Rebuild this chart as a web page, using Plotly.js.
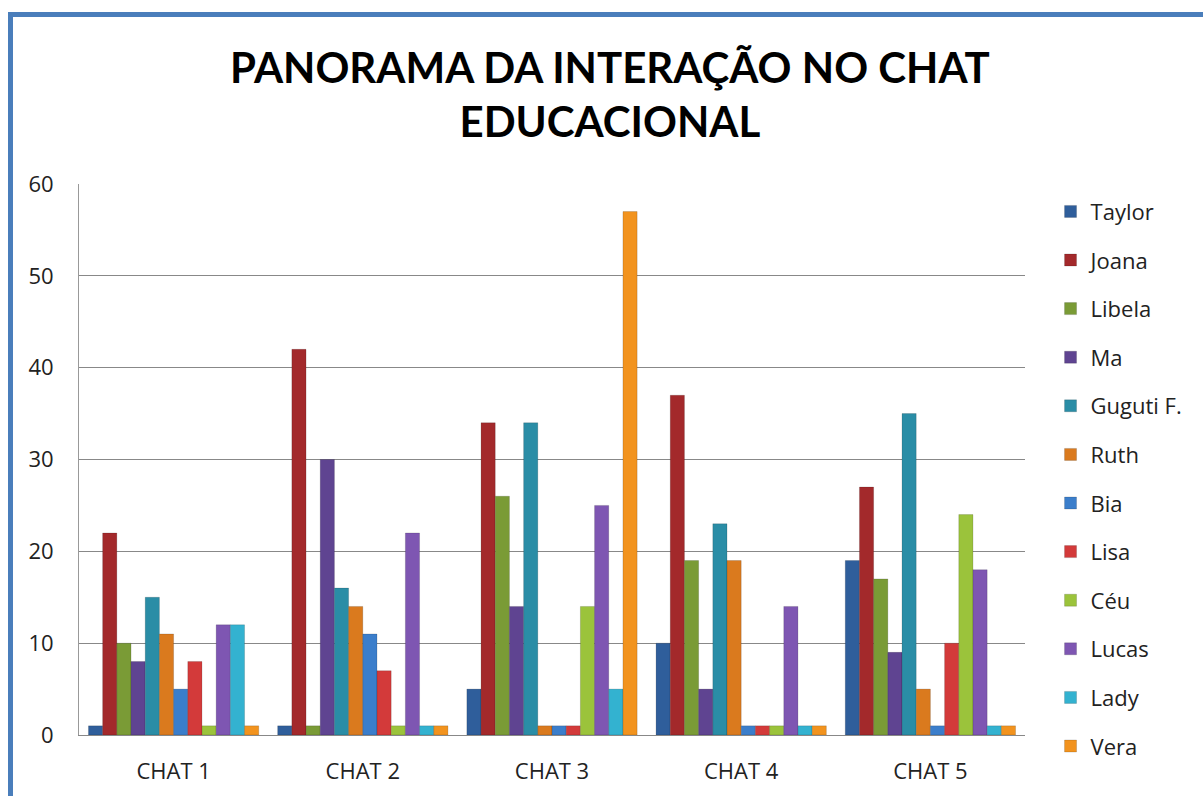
<!DOCTYPE html>
<html>
<head>
<meta charset="utf-8">
<script src="https://cdn.plot.ly/plotly-3.0.1.min.js"></script>
<style>
  html, body { margin: 0; padding: 0; background: #ffffff; }
  #frame { position: absolute; left: 8px; top: 12px; width: 1195px; height: 784px;
           border-left: 5px solid #4A7EBB; border-top: 5px solid #4A7EBB; box-sizing: border-box; }
  #chart { position: absolute; left: 0; top: 0; width: 1203px; height: 796px; }
</style>
</head>
<body>
<div id="frame"></div>
<div id="chart"></div>
<script>
const categories = ["CHAT 1", "CHAT 2", "CHAT 3", "CHAT 4", "CHAT 5"];
const names = ["Taylor", "Joana", "Libela", "Ma", "Guguti F.", "Ruth", "Bia", "Lisa", "Céu", "Lucas", "Lady", "Vera"];
const taylor = [1, 1, 5, 10, 19];
const joana  = [22, 42, 34, 37, 27];
const libela = [10, 1, 26, 19, 17];
const ma     = [8, 30, 14, 5, 9];
const guguti = [15, 16, 34, 23, 35];
const ruth   = [11, 14, 1, 19, 5];
const bia    = [5, 11, 1, 1, 1];
const lisa   = [8, 7, 1, 1, 10];
const ceu    = [1, 1, 14, 1, 24];
const lucas  = [12, 22, 25, 14, 18];
const lady   = [12, 1, 5, 1, 1];
const vera   = [1, 1, 57, 1, 1];
const seriesValues = [taylor, joana, libela, ma, guguti, ruth, bia, lisa, ceu, lucas, lady, vera];
const colors = ["#2F5E9B", "#A3292B", "#7A9B36", "#5F4491", "#2A8DA6", "#DA7A1E",
                "#3B7ECB", "#D33A3A", "#9BC33B", "#7E56B2", "#33B2D0", "#F2931E"];

const traces = names.map((n, i) => ({
  type: "bar",
  name: n,
  x: categories,
  y: seriesValues[i],
  legendgroup: "g" + i,
  marker: { color: colors[i], line: { color: "rgba(0,0,0,0.15)", width: 1 } },
  hoverinfo: "x+y+name"
}));

const layout = {
  width: 1203, height: 796,
  paper_bgcolor: "rgba(0,0,0,0)",
  plot_bgcolor: "rgba(0,0,0,0)",
  margin: { l: 79, r: 178, t: 184, b: 61 },
  barmode: "group",
  bargap: 0.1,
  bargroupgap: 0,
  font: { family: "Open Sans, Lato, sans-serif", color: "#222" },
  title: {
    text: "<b>PANORAMA DA INTERAÇÃO NO CHAT<br>EDUCACIONAL</b>",
    font: { family: "Lato, Open Sans, sans-serif", size: 42, color: "#000" },
    x: 0.507, xanchor: "center", xref: "container",
    y: 0.896, yanchor: "middle", yref: "container"
  },
  xaxis: {
    tickfont: { size: 22, color: "#222" },
    showline: true, linecolor: "#888", linewidth: 1,
    ticks: "", showgrid: false, ticklabelstandoff: 17
  },
  yaxis: {
    range: [0, 60], dtick: 10, tick0: 0,
    tickfont: { size: 22, color: "#222" },
    showline: true, linecolor: "#999", linewidth: 1,
    showgrid: true, gridcolor: "#888", gridwidth: 1,
    zeroline: false, ticks: "", ticklen: 0, ticklabelstandoff: 20
  },
  legend: {
    x: 1.027, xanchor: "left", y: 0.988, yanchor: "top",
    font: { size: 22, color: "#222" },
    tracegroupgap: 17,
    maxheight: 1000,
    bgcolor: "rgba(0,0,0,0)"
  }
};

Plotly.newPlot("chart", traces, layout, { displayModeBar: false, staticPlot: true });
</script>
</body>
</html>
